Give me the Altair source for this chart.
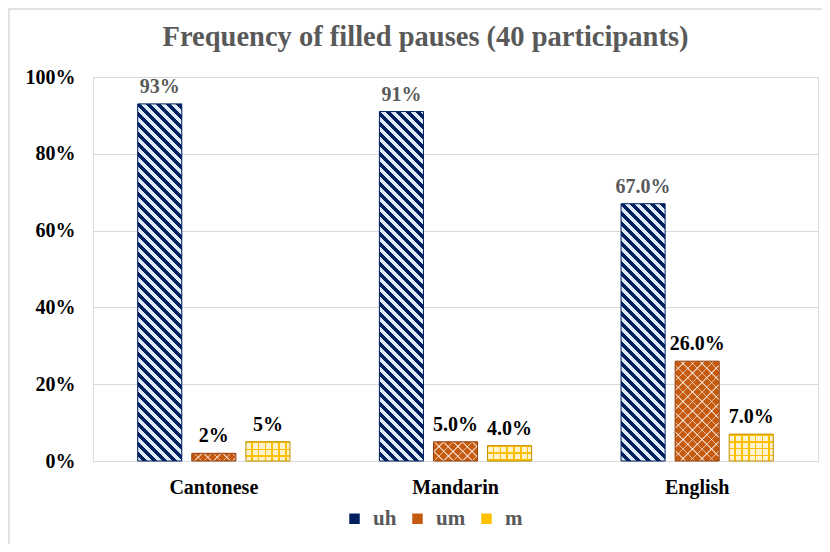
import altair as alt
import pandas as pd

# ---- data ----
categories = ["Cantonese", "Mandarin", "English"]
series = ["uh", "um", "m"]
uh_values = [93, 91, 67]
um_values = [2, 5, 26]
m_values = [5, 4, 7]
uh_labels = ["93%", "91%", "67.0%"]
um_labels = ["2%", "5.0%", "26.0%"]
m_labels = ["5%", "4.0%", "7.0%"]
y_ticks = [0, 20, 40, 60, 80, 100]
title_text = "Frequency of filled pauses (40 participants)"

rows = []
for s, vals, labs in zip(series, [uh_values, um_values, m_values],
                         [uh_labels, um_labels, m_labels]):
    for c, v, l in zip(categories, vals, labs):
        rows.append({"Language": c, "Filler": s, "Percent": v, "Label": l})
df = pd.DataFrame(rows)

# ---- layout / style ----
PLOT_W, PLOT_H = 725, 384
X_PAD_IN, X_PAD_OUT = 0.37, 0.185
OFF_PAD = 0.185
Y_MAX = 100
FONT = "Liberation Serif"

step = PLOT_W / (len(categories) - X_PAD_IN + 2 * X_PAD_OUT)
band = step * (1 - X_PAD_IN)
off_step = band / (len(series) - OFF_PAD)
BAR_W = off_step * (1 - OFF_PAD)

NAVY = "#002060"
LIGHT_BLUE = "#DEEBF7"
ORANGE = "#C55A11"
ORANGE_EDGE = "#943F0B"
YELLOW = "#FFC000"
LIGHT_YELLOW = "#FFF2CC"
GOLD_EDGE = "#BF9000"
CLEAR = "rgba(255,255,255,0)"


def stripe_stops(period, on, length, on_color, off_color):
    stops = []
    k = 0
    while k * period <= length:
        a = k * period / length
        b = min((k * period + on) / length, 1.0)
        c = min((k + 1) * period / length, 1.0)
        stops += [{"offset": a, "color": on_color},
                  {"offset": b, "color": on_color},
                  {"offset": b, "color": off_color},
                  {"offset": c, "color": off_color}]
        k += 1
    return stops


def diag_back(w, h, period, on, on_color, off_color):
    # lines running top-left -> bottom-right
    s = (w + h) / (w * w + h * h)
    return {"gradient": "linear", "x1": 0, "y1": 1, "x2": s * w, "y2": 1 - s * h,
            "stops": stripe_stops(period, on, w + h, on_color, off_color)}


def diag_fwd(w, h, period, on, on_color, off_color):
    # lines running bottom-left -> top-right
    s = (w + h) / (w * w + h * h)
    return {"gradient": "linear", "x1": 0, "y1": 0, "x2": s * w, "y2": s * h,
            "stops": stripe_stops(period, on, w + h, on_color, off_color)}


def columns(w, period, on, on_color, off_color):
    return {"gradient": "linear", "x1": 0, "y1": 0, "x2": 1, "y2": 0,
            "stops": stripe_stops(period, on, w, on_color, off_color)}


def rows_grad(h, period, on, on_color, off_color):
    return {"gradient": "linear", "x1": 0, "y1": 0, "x2": 0, "y2": 1,
            "stops": stripe_stops(period, on, h, on_color, off_color)}


base = alt.Chart(df).encode(
    x=alt.X("Language:N", sort=categories, title=None,
            scale=alt.Scale(paddingInner=X_PAD_IN, paddingOuter=X_PAD_OUT),
            axis=alt.Axis(labelAngle=0, labelFont=FONT, labelFontSize=20,
                          labelFontWeight="bold", labelColor="#000000",
                          labelPadding=16, ticks=False, domainColor="#D9D9D9",
                          domainWidth=1, grid=False)),
    xOffset=alt.XOffset("Filler:N", sort=series,
                        scale=alt.Scale(paddingInner=OFF_PAD, paddingOuter=0)),
    y=alt.Y("Percent:Q", title=None,
            scale=alt.Scale(domain=[0, Y_MAX], nice=False),
            axis=alt.Axis(values=y_ticks, labelExpr="datum.value + '%'",
                          labelFont=FONT, labelFontSize=20, labelFontWeight="bold",
                          labelColor="#000000", labelPadding=18, ticks=False,
                          domain=False, gridColor="#D9D9D9", gridWidth=1)),
)

layers = []

# base fills (also drive the legend)
layers.append(base.mark_bar(strokeWidth=0).encode(
    color=alt.Color("Filler:N", sort=series,
                    scale=alt.Scale(domain=series, range=[NAVY, ORANGE, YELLOW]),
                    legend=alt.Legend(title=None, orient="none", direction="horizontal",
                                      legendX=251, legendY=431, symbolType="square",
                                      symbolSize=110, symbolStrokeWidth=0,
                                      labelFont=FONT, labelFontSize=21,
                                      labelFontWeight="bold", labelColor="#595959",
                                      labelOffset=8, columnPadding=10,
                                      symbolOpacity=1))
))

# pattern overlays, one per bar
for s, vals in zip(series, [uh_values, um_values, m_values]):
    for c, v in zip(categories, vals):
        h = v / Y_MAX * PLOT_H
        w = BAR_W
        flt = (alt.datum.Filler == s) & (alt.datum.Language == c)
        if s == "uh":
            fills = [diag_back(w, h, 10, 5.0, LIGHT_BLUE, CLEAR)]
        elif s == "um":
            fills = [diag_back(w, h, 9.5, 1.6, "rgba(255,255,255,0.6)", CLEAR),
                     diag_fwd(w, h, 9.5, 1.6, "rgba(255,255,255,0.6)", CLEAR)]
        else:
            fills = [columns(w, 6.8, 5.2, LIGHT_YELLOW, CLEAR),
                     rows_grad(h, 6.8, 1.6, YELLOW, CLEAR)]
        for f in fills:
            layers.append(base.transform_filter(flt).mark_bar(fill=f, strokeWidth=0))

# bar outlines
layers.append(base.mark_bar(filled=False, strokeWidth=1).encode(
    stroke=alt.Stroke("Filler:N", sort=series,
                      scale=alt.Scale(domain=series, range=[NAVY, ORANGE_EDGE, GOLD_EDGE]),
                      legend=None)
))

# value labels
layers.append(base.mark_text(baseline="bottom", dy=-7, font=FONT, fontSize=20,
                             fontWeight="bold").encode(
    text="Label:N",
    color=alt.condition(alt.datum.Filler == "uh", alt.value("#595959"),
                        alt.value("#000000")),
))

deco = pd.DataFrame({"Title": [title_text]})

# outer chart frame
frame = alt.Chart(deco).mark_rect(
    filled=False, stroke="#D9D9D9", strokeWidth=1.5).encode(
    x=alt.value(-84), y=alt.value(-68), x2=alt.value(PLOT_W + 60),
    y2=alt.value(PLOT_H + 200))

# chart title, centred on the frame
title = alt.Chart(deco).mark_text(
    font=FONT, fontSize=28.5, fontWeight="bold", color="#595959",
    align="center", baseline="alphabetic").encode(
    text="Title:N", x=alt.value(PLOT_W / 2 - 30), y=alt.value(-31))

chart = alt.layer(*layers, frame, title).properties(
    width=PLOT_W, height=PLOT_H,
    autosize=alt.AutoSizeParams(type="none"),
    padding={"left": 85, "top": 69, "right": 4, "bottom": 83},
).configure_view(stroke=None).configure(background="white")

chart.save("out.html", embed_options={"renderer": "svg", "actions": False})
